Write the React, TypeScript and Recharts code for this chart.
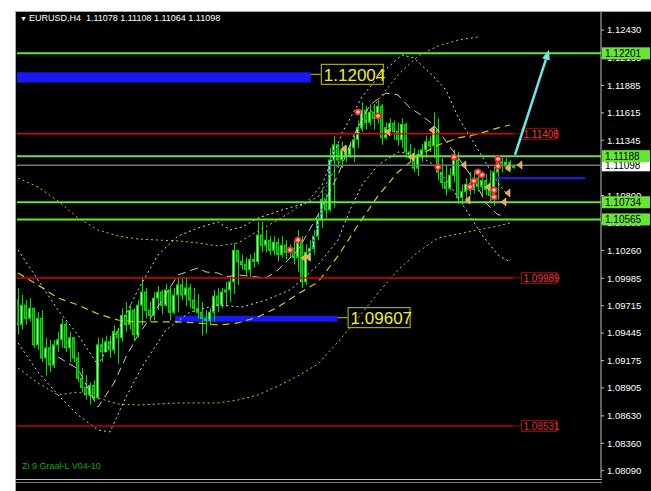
import {
  ComposedChart,
  Bar,
  Line,
  Scatter,
  XAxis,
  YAxis,
  ReferenceLine,
  ReferenceArea,
} from "recharts";

// EURUSD H4 candles, one per index (oldest first)
const opens = [
  1.0977, 1.0953, 1.0972, 1.0959, 1.0969, 1.0933, 1.0959, 1.092, 1.093, 1.0913,
  1.0933, 1.0938, 1.0953, 1.093, 1.094, 1.092, 1.09, 1.0891, 1.0884, 1.0893,
  1.0881, 1.0933, 1.0926, 1.0936, 1.0928, 1.0946, 1.094, 1.0962, 1.0953, 1.0967,
  1.0943, 1.0972, 1.0985, 1.0967, 1.0962, 1.0979, 1.0985, 1.0972, 1.0987, 1.0965,
  1.0982, 1.0992, 1.0982, 1.0989, 1.0977, 1.0969, 1.0965, 1.0959, 1.0957, 1.0965,
  1.0981, 1.0972, 1.0985, 1.0987, 1.0995, 1.1026, 1.1015, 1.1012, 1.1007, 1.1017,
  1.1015, 1.1041, 1.1031, 1.1036, 1.1026, 1.1034, 1.1022, 1.1031, 1.1024, 1.1028,
  1.1019, 1.1036, 1.0995, 1.1024, 1.1028, 1.104, 1.1056, 1.1076, 1.1066, 1.1115,
  1.113, 1.1115, 1.1125, 1.112, 1.1127, 1.1135, 1.1147, 1.1164, 1.1152, 1.1162,
  1.1156, 1.1168, 1.1137, 1.1147, 1.1151, 1.1143, 1.1135, 1.115, 1.1123, 1.1117,
  1.1107, 1.112, 1.1125, 1.1133, 1.1129, 1.1145, 1.1103, 1.1093, 1.1087, 1.11,
  1.1115, 1.1078, 1.1084, 1.1091, 1.1086, 1.1097, 1.1089, 1.1095, 1.1086, 1.108,
  1.1103, 1.1113, 1.1109, 1.1113, 1.11078,
];
const highs = [
  1.0989, 1.0982, 1.0977, 1.0979, 1.0969, 1.0965, 1.0967, 1.094, 1.0938, 1.0938,
  1.0946, 1.0959, 1.0956, 1.0946, 1.094, 1.0926, 1.091, 1.0903, 1.0896, 1.0898,
  1.094, 1.094, 1.0942, 1.0942, 1.0952, 1.095, 1.0969, 1.0975, 1.0973, 1.0969,
  1.0977, 1.0999, 1.0989, 1.0975, 1.0985, 1.0991, 1.0987, 1.0993, 1.0991, 1.0989,
  1.0999, 1.0999, 1.0999, 1.0993, 1.0989, 1.0983, 1.0975, 1.0967, 1.0969, 1.0987,
  1.0989, 1.0989, 1.0995, 1.0999, 1.1033, 1.1026, 1.1022, 1.1019, 1.1022, 1.1024,
  1.1054, 1.1054, 1.1046, 1.104, 1.104, 1.1038, 1.104, 1.1036, 1.1032, 1.1036,
  1.1046, 1.104, 1.1032, 1.1036, 1.1046, 1.1062, 1.1087, 1.1081, 1.1127, 1.1139,
  1.1131, 1.1133, 1.1129, 1.1131, 1.1139, 1.1154, 1.1172, 1.1168, 1.117, 1.117,
  1.1174, 1.117, 1.1152, 1.1156, 1.1154, 1.1152, 1.1156, 1.1152, 1.1131, 1.1127,
  1.1125, 1.1131, 1.1139, 1.1139, 1.1162, 1.1156, 1.1117, 1.111, 1.1107, 1.1125,
  1.1123, 1.1091, 1.1097, 1.1103, 1.1105, 1.1105, 1.1099, 1.1101, 1.1103, 1.1109,
  1.1119, 1.1117, 1.1117, 1.1115, 1.11108,
];
const lows = [
  1.0943, 1.0948, 1.0953, 1.0956, 1.093, 1.0928, 1.0916, 1.0903, 1.0906, 1.091,
  1.0926, 1.093, 1.0926, 1.0916, 1.0916, 1.0896, 1.0886, 1.0879, 1.0874, 1.0877,
  1.0879, 1.0916, 1.0926, 1.092, 1.0924, 1.0914, 1.0936, 1.0946, 1.0948, 1.0936,
  1.094, 1.0952, 1.0959, 1.0956, 1.0957, 1.0967, 1.0963, 1.0971, 1.0957, 1.0963,
  1.0965, 1.0977, 1.0971, 1.0969, 1.0965, 1.0959, 1.0942, 1.0944, 1.0952, 1.0956,
  1.0965, 1.0969, 1.0971, 1.0975, 1.0983, 1.0992, 1.1007, 1.1001, 1.0999, 1.1009,
  1.1012, 1.1024, 1.1024, 1.1021, 1.1021, 1.1015, 1.1019, 1.1017, 1.1019, 1.1012,
  1.1005, 1.0989, 1.0992, 1.1015, 1.1022, 1.1036, 1.1048, 1.1058, 1.1064, 1.1068,
  1.1107, 1.1107, 1.1113, 1.1117, 1.1113, 1.1127, 1.1143, 1.1145, 1.1149, 1.1145,
  1.1151, 1.113, 1.1135, 1.1143, 1.1135, 1.1129, 1.1127, 1.1117, 1.1113, 1.1103,
  1.1099, 1.1113, 1.1117, 1.1123, 1.1117, 1.1095, 1.1087, 1.108, 1.1085, 1.1093,
  1.1072, 1.1071, 1.1076, 1.108, 1.1082, 1.1084, 1.1078, 1.108, 1.1074, 1.107,
  1.1076, 1.1103, 1.1105, 1.1105, 1.11064,
];
const closes = [
  1.0953, 1.0972, 1.0959, 1.0969, 1.0933, 1.0959, 1.092, 1.093, 1.0913, 1.0933,
  1.0938, 1.0953, 1.093, 1.094, 1.092, 1.09, 1.0891, 1.0884, 1.0893, 1.0881,
  1.0933, 1.0926, 1.0936, 1.0928, 1.0946, 1.094, 1.0962, 1.0953, 1.0967, 1.0943,
  1.0972, 1.0985, 1.0967, 1.0962, 1.0979, 1.0985, 1.0972, 1.0987, 1.0965, 1.0982,
  1.0992, 1.0982, 1.0989, 1.0977, 1.0969, 1.0965, 1.0959, 1.0957, 1.0965, 1.0981,
  1.0972, 1.0985, 1.0987, 1.0995, 1.1026, 1.1015, 1.1012, 1.1007, 1.1017, 1.1015,
  1.1041, 1.1031, 1.1036, 1.1026, 1.1034, 1.1022, 1.1031, 1.1024, 1.1028, 1.1019,
  1.1036, 1.0995, 1.1024, 1.1028, 1.104, 1.1056, 1.1076, 1.1066, 1.1115, 1.113,
  1.1115, 1.1125, 1.112, 1.1127, 1.1135, 1.1147, 1.1164, 1.1152, 1.1162, 1.1156,
  1.1168, 1.1137, 1.1147, 1.1151, 1.1143, 1.1135, 1.115, 1.1123, 1.1117, 1.1107,
  1.112, 1.1125, 1.1133, 1.1129, 1.1145, 1.1103, 1.1093, 1.1087, 1.11, 1.1115,
  1.1078, 1.1084, 1.1091, 1.1086, 1.1097, 1.1089, 1.1095, 1.1086, 1.108, 1.1103,
  1.1113, 1.1109, 1.1113, 1.1109, 1.11098,
];

// indicator envelopes, [bar index, price]
const yellowUpper: [number, number][] = [
  [0, 1.10973], [5, 1.10884], [10, 1.10747], [15, 1.10579], [20, 1.10461], [25, 1.10402],
  [30, 1.10372], [35, 1.10362], [40, 1.10353], [45, 1.10333], [50, 1.10303], [55, 1.10333],
  [60, 1.10451], [65, 1.10559], [70, 1.10687], [75, 1.10786], [80, 1.11101], [85, 1.11397],
  [90, 1.11741], [95, 1.11988], [100, 1.12175], [105, 1.12273], [110, 1.12332], [115, 1.12362],
];
const yellowMid: [number, number][] = [
  [0, 1.10037], [5, 1.09919], [10, 1.09791], [15, 1.09722], [20, 1.09634], [25, 1.09574],
  [30, 1.09555], [35, 1.09555], [40, 1.09555], [45, 1.09545], [50, 1.09525], [55, 1.09545],
  [60, 1.09604], [65, 1.09702], [70, 1.09831], [75, 1.09949], [80, 1.10205], [85, 1.1051],
  [90, 1.10796], [95, 1.11032], [100, 1.1119], [105, 1.11298], [110, 1.11367], [115, 1.11407],
  [120, 1.11466], [123, 1.11495],
];
const yellowLower: [number, number][] = [
  [0, 1.09102], [5, 1.08954], [10, 1.08836], [15, 1.08865], [20, 1.08806], [25, 1.08747],
  [30, 1.08737], [35, 1.08747], [40, 1.08757], [45, 1.08757], [50, 1.08757], [55, 1.08786],
  [60, 1.08836], [65, 1.08924], [70, 1.09023], [75, 1.09141], [80, 1.09358], [85, 1.09594],
  [90, 1.0984], [95, 1.10067], [100, 1.10244], [105, 1.10382], [110, 1.10422], [115, 1.10461],
  [120, 1.105], [123, 1.1053],
];
const whiteUpper: [number, number][] = [
  [0, 1.10264], [5, 1.09968], [10, 1.09673], [15, 1.09427], [20, 1.09131], [25, 1.09476],
  [30, 1.0987], [35, 1.10215], [40, 1.10402], [45, 1.10481], [50, 1.1054], [53, 1.10461],
  [56, 1.1049], [60, 1.10579], [66, 1.10658], [72, 1.10727], [76, 1.10904], [81, 1.11416],
  [86, 1.11771], [90, 1.11968], [94, 1.12116], [96, 1.12185], [99, 1.12155], [104, 1.11968],
  [107, 1.1184], [110, 1.11574], [114, 1.11318], [117, 1.11121], [120, 1.10924],
  [122, 1.10825],
];
const whiteMid: [number, number][] = [
  [10, 1.0921], [15, 1.09092], [19, 1.08786], [20, 1.08717], [24, 1.08954], [27, 1.0921],
  [30, 1.09427], [34, 1.09643], [40, 1.10018], [45, 1.10087], [47, 1.10047], [50, 1.10037],
  [52, 1.09998], [55, 1.10018], [62, 1.09988], [65, 1.10067], [70, 1.10264], [75, 1.10609],
  [80, 1.11003], [84, 1.11397], [88, 1.11692], [92, 1.1181], [95, 1.11791], [98, 1.11663],
  [100, 1.11613], [103, 1.11525], [105, 1.11446], [108, 1.11279], [111, 1.11121],
  [114, 1.10953], [117, 1.10727], [120, 1.10609], [122, 1.10609],
];
const whiteLower: [number, number][] = [
  [0, 1.09348], [5, 1.09062], [10, 1.08836], [15, 1.08639], [20, 1.08491], [23, 1.08472],
  [27, 1.08816], [31, 1.09112], [37, 1.09476], [43, 1.09653], [50, 1.09722], [56, 1.09702],
  [62, 1.09771], [68, 1.0987], [75, 1.10116], [80, 1.10362], [83, 1.10658], [86, 1.10904],
  [90, 1.11101], [95, 1.11229], [100, 1.112], [104, 1.11101], [108, 1.10904], [112, 1.10658],
  [116, 1.10412], [120, 1.10215], [123, 1.10146],
];
const blueTrail: [number, number][] = [
  [73, 1.10234], [76, 1.10658], [79, 1.11249],
];

// signal markers, [bar index, price]
const sellDots: [number, number][] = [
  [68, 1.10264], [70, 1.10362], [85, 1.11623], [90, 1.11584], [105, 1.11081], [109, 1.1118],
  [113, 1.10884], [114, 1.10944], [115, 1.11032], [116, 1.11003], [119, 1.10855],
  [119, 1.10786], [120, 1.11091], [120, 1.1116],
];
const flagMarks: [number, number][] = [
  [70, 1.10185], [71, 1.10195], [80, 1.11259], [91, 1.11426], [97, 1.1118], [102, 1.11446],
  [110, 1.11101], [111, 1.10884], [111, 1.10756], [116, 1.10884], [120, 1.10737],
  [121, 1.10825], [121, 1.11072], [124, 1.11101],
];

const priceTicks = [
  1.1243, 1.12155, 1.11885, 1.11615, 1.11345, 1.11075, 1.108, 1.1053, 1.1026, 1.09985,
  1.09715, 1.09445, 1.09175, 1.08905, 1.0863, 1.0836, 1.0809,
];
const greenLevels = [1.12201, 1.11188, 1.10734, 1.10565];
const redLevels = [1.11408, 1.09989, 1.08531];
const lastPrice = 1.11098;
// blue zones: [level, depth, first bar, last bar]
const blueZones: [number, number, number, number][] = [
  [1.12004, 0.0009, -0.25, 73.2],
  [1.09607, 0.0005, 39.25, 79.9],
];
const blueLine: [number, number, number] = [1.10971, 119.5, 141.75];
const arrow: [number, number, number, number] = [124.25, 1.112, 132.75, 1.12235];

const X_DOMAIN: [number, number] = [-0.25, 145.75];
const Y_DOMAIN: [number, number] = [1.08018, 1.12608];

const at = (pts: [number, number][], i: number) => {
  const hit = pts.find((p) => p[0] === i);
  return hit ? hit[1] : null;
};

const data = opens.map((open, i) => ({
  i,
  open,
  close: closes[i],
  high: highs[i],
  low: lows[i],
  range: [lows[i], highs[i]],
  yu: at(yellowUpper, i),
  ym: at(yellowMid, i),
  yl: at(yellowLower, i),
  wu: at(whiteUpper, i),
  wm: at(whiteMid, i),
  wl: at(whiteLower, i),
  bt: at(blueTrail, i),
}));

const sellData = sellDots.map(([i, p]) => ({ i, p }));
const flagData = flagMarks.map(([i, p]) => ({ i, p }));

const FONT = "Liberation Sans, Arial, sans-serif";
const GREEN = "#66e633";

const Candle = (props: any) => {
  const { x, y, width, height, payload } = props;
  const top = Math.min(y, y + height);
  const h = Math.abs(height);
  const { open, close, high, low } = payload;
  const k = h / (high - low || 1);
  const yo = top + (high - open) * k;
  const yc = top + (high - close) * k;
  const cx = Math.round(x + width / 2) + 0.5;
  const bx = Math.round(x) + 0.5;
  const up = close >= open;
  return (
    <g>
      <line x1={cx} x2={cx} y1={top} y2={top + h} stroke="#00e000" />
      <rect
        x={bx}
        y={Math.min(yo, yc)}
        width={Math.max(1, Math.round(width) - 1)}
        height={Math.max(1, Math.abs(yc - yo))}
        fill={up ? "#b4f7ae" : "#008a00"}
        stroke="#00e000"
        strokeWidth={1}
      />
    </g>
  );
};

const AxisTag = ({ viewBox, text, bg, fg }: any) => {
  const x = viewBox.x + viewBox.width + 1;
  const y = viewBox.y;
  return (
    <g>
      <rect x={x} y={y - 6} width={48} height={12} fill={bg} />
      <text x={x + 3} y={y + 4} fontSize={10} fill={fg} fontFamily={FONT}>
        {text}
      </text>
    </g>
  );
};

const RedTag = ({ viewBox, text, color }: any) => {
  const x = viewBox.x + viewBox.width;
  const y = viewBox.y;
  return (
    <g>
      <line x1={x} x2={x + 8} y1={y} y2={y} stroke="#a00000" />
      <rect x={x + 8.5} y={y - 5.5} width={35} height={11} fill="#000" stroke="#b00000" />
      <text x={x + 10.5} y={y + 4} fontSize={10} fill={color} fontFamily={FONT}>
        {text}
      </text>
    </g>
  );
};

const ZoneTag = ({ viewBox, text }: any) => {
  const x = viewBox.x + viewBox.width;
  const y = viewBox.y + 2;
  return (
    <g>
      <line x1={x} x2={x + 10} y1={y} y2={y} stroke="#c8c800" />
      <rect x={x + 10.5} y={y - 10} width={62} height={20} fill="#000" stroke="#c8c800" />
      <text x={x + 13} y={y + 6.5} fontSize={17} fill="#f0f020" fontFamily={FONT}>
        {text}
      </text>
    </g>
  );
};

const Arrow = (props: any) => {
  const { x1, y1, x2, y2 } = props;
  const a = Math.atan2(y2 - y1, x2 - x1);
  const len = 10;
  const w = 4;
  const bx = x2 - len * Math.cos(a);
  const by = y2 - len * Math.sin(a);
  const nx = -Math.sin(a) * w;
  const ny = Math.cos(a) * w;
  return (
    <g>
      <line x1={x1} y1={y1} x2={bx} y2={by} stroke="#6ee6f0" strokeWidth={2.5} />
      <polygon
        points={`${x2},${y2} ${bx + nx},${by + ny} ${bx - nx},${by - ny}`}
        fill="#6ee6f0"
      />
    </g>
  );
};

const SellDot = (props: any) => {
  const { cx, cy } = props;
  return (
    <g>
      <circle cx={cx} cy={cy} r={3.5} fill="#ff2020" />
      <path d={`M${cx - 2},${cy}H${cx + 2}M${cx},${cy - 2}V${cy + 2}`} stroke="#fff" />
    </g>
  );
};

const Flag = (props: any) => {
  const { cx, cy } = props;
  const x = cx + 3;
  return (
    <polygon
      points={`${x},${cy} ${x + 5},${cy - 4} ${x + 5},${cy + 4}`}
      fill="#f0a050"
      stroke="#ffe0b0"
      strokeWidth={0.5}
    />
  );
};

const layer: React.CSSProperties = { position: "absolute", left: 0, top: 0 };

export default function App() {
  return (
    <div
      style={{
        position: "absolute",
        left: 15,
        top: 11,
        width: 636,
        height: 480,
        background: "#000",
        borderLeft: "1px solid #a8a8a8",
        borderTop: "1px solid #a8a8a8",
        boxSizing: "border-box",
        overflow: "hidden",
      }}
    >
      {/* price scale underneath, so the level tags can cover its labels */}
      <div style={layer}>
        <ComposedChart
          width={635}
          height={479}
          data={data}
          margin={{ top: 0, right: 0, bottom: 13, left: 1 }}
        >
          <XAxis dataKey="i" type="number" domain={X_DOMAIN} hide allowDataOverflow />
          <YAxis
            orientation="right"
            width={50}
            domain={Y_DOMAIN}
            allowDataOverflow
            ticks={priceTicks}
            interval={0}
            tickFormatter={(v: number) => v.toFixed(5)}
            tick={{ fill: "#ffffff", fontSize: 9.5, fontFamily: FONT, textAnchor: "start" }}
            tickSize={3}
            tickMargin={3}
            tickLine={{ stroke: "#c0c0c0" }}
            axisLine={{ stroke: "#c0c0c0" }}
          />
        </ComposedChart>
      </div>

      <div style={layer}>
        <ComposedChart
          width={635}
          height={479}
          data={data}
          margin={{ top: 0, right: 50, bottom: 13, left: 1 }}
        >
          <XAxis dataKey="i" type="number" domain={X_DOMAIN} hide allowDataOverflow />
          <YAxis domain={Y_DOMAIN} hide allowDataOverflow />

          {blueZones.map(([level, depth, x1, x2]) => (
            <ReferenceArea
              key={level}
              x1={x1}
              x2={x2}
              y1={level - depth}
              y2={level + 0.0001}
              fill="#1818f0"
              fillOpacity={1}
              stroke="none"
              label={<ZoneTag text={level.toFixed(5)} />}
            />
          ))}

          <Line dataKey="yu" stroke="#c8c800" strokeDasharray="2 3" dot={false} connectNulls isAnimationActive={false} />
          <Line dataKey="yl" stroke="#c8c800" strokeDasharray="2 3" dot={false} connectNulls isAnimationActive={false} />
          <Line dataKey="ym" stroke="#d0d000" strokeWidth={1.2} strokeDasharray="7 5" dot={false} connectNulls isAnimationActive={false} />
          <Line dataKey="wu" stroke="#d8d8d8" strokeDasharray="2 3" dot={false} connectNulls isAnimationActive={false} />
          <Line dataKey="wl" stroke="#d8d8d8" strokeDasharray="2 3" dot={false} connectNulls isAnimationActive={false} />
          <Line dataKey="wm" stroke="#c8c8c8" strokeDasharray="8 5" dot={false} connectNulls isAnimationActive={false} />
          <Line dataKey="bt" stroke="#3030ff" strokeWidth={1.5} strokeDasharray="2 2" dot={false} connectNulls isAnimationActive={false} />

          {redLevels.map((lv, n) => (
            <ReferenceLine
              key={lv}
              segment={[
                { x: -0.25, y: lv },
                { x: 123.75, y: lv },
              ]}
              stroke={n === 2 ? "#c80000" : "#e80000"}
              strokeWidth={1.5}
              label={<RedTag text={lv.toFixed(5)} color={n === 2 ? "#d83030" : "#ee3a3a"} />}
            />
          ))}

          <Bar dataKey="range" barSize={3} shape={<Candle />} isAnimationActive={false} />

          <Scatter data={flagData} dataKey="p" shape={<Flag />} isAnimationActive={false} />
          <Scatter data={sellData} dataKey="p" shape={<SellDot />} isAnimationActive={false} />

          <ReferenceLine
            segment={[
              { x: blueLine[1], y: blueLine[0] },
              { x: blueLine[2], y: blueLine[0] },
            ]}
            stroke="#2020ff"
            strokeWidth={2}
          />

          <ReferenceLine
            y={lastPrice}
            stroke="#707880"
            strokeWidth={1.5}
            label={<AxisTag text={lastPrice.toFixed(5)} bg="#ffffff" fg="#000000" />}
          />
          {greenLevels.map((lv) => (
            <ReferenceLine
              key={lv}
              y={lv}
              stroke={GREEN}
              strokeWidth={2}
              label={<AxisTag text={lv.toFixed(5)} bg={GREEN} fg="#000000" />}
            />
          ))}

          <ReferenceLine
            segment={[
              { x: arrow[0], y: arrow[1] },
              { x: arrow[2], y: arrow[3] },
            ]}
            shape={<Arrow />}
          />
        </ComposedChart>
      </div>

      <div
        style={{
          position: "absolute",
          left: 4,
          top: 1,
          color: "#fff",
          fontFamily: FONT,
          fontSize: 9,
          lineHeight: "11px",
          whiteSpace: "pre",
        }}
      >
        <span style={{ fontSize: 7 }}>▼ </span>EURUSD,H4  1.11078 1.11108 1.11064 1.11098
      </div>
      <div
        style={{
          position: "absolute",
          left: 6,
          top: 449,
          color: "#00b000",
          fontFamily: FONT,
          fontSize: 9,
          lineHeight: "11px",
        }}
      >
        Zi 9 Graal-L V04-10
      </div>
      <div
        style={{
          position: "absolute",
          left: 0,
          top: 467,
          width: 586,
          height: 2,
          borderTop: "1px solid #c0c0c0",
          borderBottom: "1px solid #808080",
        }}
      />
    </div>
  );
}
